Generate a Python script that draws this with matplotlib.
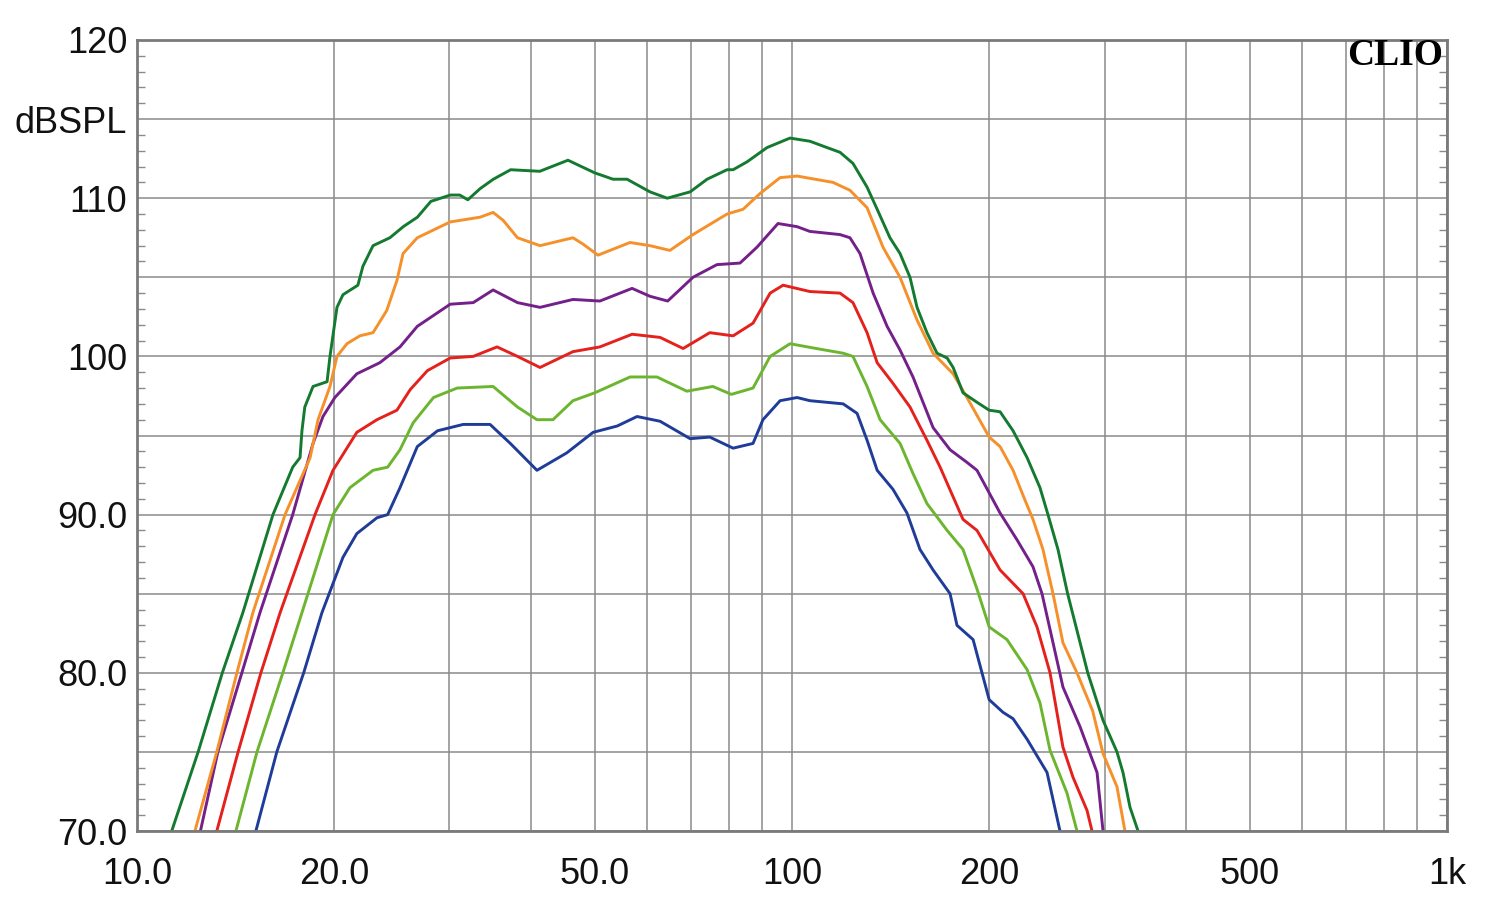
import numpy as np
import matplotlib
matplotlib.use('Agg')
import matplotlib.pyplot as plt
from matplotlib.ticker import FixedLocator, NullFormatter

plt.rcParams['font.family'] = ['Liberation Sans', 'DejaVu Sans']

# frequency response curves (Hz, dBSPL)
green_f = [11.3, 12.4, 13.5, 14.51, 16.13, 17.29, 17.74, 17.86, 18.04, 18.57, 19.51, 19.71,
           20.2, 20.63, 21.74, 22.13, 22.93, 24.33, 25.5, 26.8, 28.1, 30.1, 31.1, 32.0,
           33.4, 35.0, 37.2, 41.2, 45.5, 50.0, 53.3, 56.0, 60.7, 64.5, 69.9, 74.2, 79.6,
           81.3, 85.4, 91.6, 99.3, 106.5, 113.1, 118.4, 123.9, 130.2, 134.9, 141.1, 146.2,
           151.4, 155.2, 160.7, 166.5, 172.5, 176.2, 182.4, 191.6, 200, 207.8, 217.5,
           228.5, 239.1, 245.9, 254.7, 263.5, 282.8, 298.4, 313.4, 320.1, 328.1, 337.5]
green_db = [70, 75, 80, 83.8, 90.0, 93.0, 93.6, 95.3, 96.8, 98.1, 98.4, 100.0, 103.1,
            103.9, 104.5, 105.7, 107.0, 107.5, 108.2, 108.8, 109.8, 110.2, 110.2, 109.9,
            110.6, 111.2, 111.8, 111.7, 112.4, 111.6, 111.2, 111.2, 110.4, 110.0, 110.4,
            111.2, 111.8, 111.8, 112.3, 113.2, 113.8, 113.6, 113.2, 112.9, 112.2, 110.7,
            109.3, 107.5, 106.5, 105.0, 103.1, 101.5, 100.2, 99.9, 99.3, 97.7, 97.1, 96.6,
            96.5, 95.3, 93.6, 91.7, 90.0, 87.8, 85.0, 80.0, 77.0, 75.0, 73.7, 71.5, 70]

orange_f = [12.26, 13.24, 14.21, 15.03, 16.83, 18.38, 18.9, 19.71, 20.2, 20.92, 21.89,
            22.93, 24.06, 24.94, 25.48, 26.79, 30.08, 33.41, 34.97, 36.23, 38.1, 41.24,
            46.3, 47.96, 50.57, 56.59, 60.7, 65.1, 70.6, 79.6, 84.2, 89.4, 95.9, 101.8,
            115.5, 122.6, 130.2, 137.7, 146.2, 155.2, 164.2, 176.2, 185.0, 200, 207.8,
            217.5, 226.9, 233.3, 241.6, 250.3, 259.2, 272.3, 287.7, 298.4, 313.4, 322.3]
orange_db = [70, 75, 80, 83.8, 90.0, 93.6, 96.0, 98.1, 100.0, 100.8, 101.3, 101.5, 102.9,
             104.8, 106.5, 107.5, 108.5, 108.8, 109.1, 108.6, 107.5, 107.0, 107.5, 107.1,
             106.4, 107.2, 107.0, 106.7, 107.7, 109.0, 109.3, 110.3, 111.3, 111.4, 111.0,
             110.5, 109.4, 106.9, 105.0, 102.3, 100.2, 98.9, 97.4, 94.9, 94.3, 92.8, 90.9,
             89.7, 87.8, 85.0, 81.9, 80.0, 77.6, 74.9, 72.8, 70]

purple_f = [12.5, 13.29, 14.46, 15.41, 17.29, 18.57, 19.23, 20.05, 21.66, 23.48, 25.21,
            26.79, 30.08, 32.61, 34.97, 38.1, 41.24, 46.3, 50.9, 57.0, 60.7, 64.6, 70.6,
            76.8, 83.3, 88.4, 95.2, 101.8, 106.5, 118.4, 122.6, 127.0, 133.0, 139.7, 146.2,
            153.0, 164.2, 174.3, 185.0, 191.6, 207.8, 220.6, 233.3, 240.8, 250.3, 259.2,
            275.2, 292.2, 298.4]
purple_db = [70, 75, 80, 83.8, 90.0, 94.5, 96.2, 97.4, 98.9, 99.6, 100.6, 101.9, 103.3,
             103.4, 104.2, 103.4, 103.1, 103.6, 103.5, 104.3, 103.8, 103.5, 105.0, 105.8,
             105.9, 106.9, 108.4, 108.2, 107.9, 107.7, 107.5, 106.5, 104.0, 101.9, 100.4,
             98.7, 95.5, 94.1, 93.3, 92.8, 90.1, 88.4, 86.7, 85.0, 81.9, 79.1, 76.6, 73.7,
             70]

red_f = [13.24, 14.27, 15.46, 16.54, 18.7, 19.92, 21.66, 23.25, 24.94, 26.13, 27.76,
         30.08, 32.61, 35.46, 38.1, 41.24, 46.3, 50.9, 57.0, 62.9, 68.2, 74.9, 81.3, 87.2,
         92.6, 96.9, 106.5, 118.4, 123.9, 130.2, 134.9, 142.6, 151.4, 160.7, 168.3, 182.4,
         191.6, 207.8, 225.3, 236.6, 247.7, 259.2, 268.5, 282.1, 287.1]
red_db = [70, 75, 80, 83.8, 90.0, 92.8, 95.2, 96.0, 96.6, 97.9, 99.1, 99.9, 100.0, 100.6,
          100.0, 99.3, 100.3, 100.6, 101.4, 101.2, 100.5, 101.5, 101.3, 102.1, 104.0,
          104.5, 104.1, 104.0, 103.4, 101.5, 99.6, 98.3, 96.8, 94.7, 93.0, 89.7, 89.0,
          86.5, 85.0, 82.9, 80.0, 75.3, 73.4, 71.3, 70]

lgreen_f = [14.16, 15.25, 16.7, 17.86, 19.92, 21.14, 22.93, 24.14, 25.21, 26.4, 28.36,
            30.82, 34.97, 38.1, 40.8, 43.16, 46.3, 50.0, 56.6, 62.2, 69.1, 75.7, 80.8,
            87.2, 92.6, 99.3, 108.9, 119.7, 123.9, 130.2, 136.3, 146.2, 153.0, 160.7,
            172.5, 182.4, 191.6, 200, 212.9, 228.5, 239.1, 247.7, 262.9, 272.3]
lgreen_db = [70, 75, 80, 83.8, 90.0, 91.7, 92.8, 93.0, 94.1, 95.8, 97.4, 98.0, 98.1,
             96.8, 96.0, 96.0, 97.2, 97.7, 98.7, 98.7, 97.8, 98.1, 97.6, 98.0, 100.0,
             100.8, 100.5, 100.2, 100.0, 98.1, 96.0, 94.5, 92.6, 90.7, 89.0, 87.8, 85.3,
             82.9, 82.1, 80.2, 78.1, 75.1, 72.4, 70]

blue_f = [15.19, 16.35, 17.97, 19.16, 20.63, 21.66, 23.25, 24.14, 25.21, 26.79, 28.77,
          31.48, 34.6, 37.15, 40.8, 45.3, 49.7, 54.1, 58.0, 62.9, 69.9, 74.9, 81.3, 87.2,
          90.3, 95.9, 101.8, 106.5, 119.7, 125.7, 130.2, 134.9, 142.6, 149.8, 156.8,
          164.2, 174.3, 178.6, 189.0, 200, 210, 217.5, 228.5, 245.1, 256.5]
blue_db = [70, 75, 80, 83.8, 87.3, 88.8, 89.8, 90.0, 91.7, 94.3, 95.3, 95.7, 95.7, 94.5,
           92.8, 93.9, 95.2, 95.6, 96.2, 95.9, 94.8, 94.9, 94.2, 94.5, 96.0, 97.2, 97.4,
           97.2, 97.0, 96.4, 94.7, 92.8, 91.6, 90.1, 87.8, 86.5, 85.0, 83.0, 82.1, 78.3,
           77.5, 77.1, 75.8, 73.7, 70]

series = [
    (blue_f, blue_db, '#1f3c98'),
    (lgreen_f, lgreen_db, '#6cb52f'),
    (red_f, red_db, '#e4211c'),
    (purple_f, purple_db, '#74208a'),
    (orange_f, orange_db, '#f5902a'),
    (green_f, green_db, '#137a30'),
]

fig = plt.figure(figsize=(15, 9.11), dpi=100)
ax = fig.add_axes([0.0913, 0.0878, 0.8734, 0.8683])

for f, db, col in series:
    ax.semilogx(f, db, color=col, linewidth=2.1, solid_joinstyle='round')

ax.set_xlim(10, 1000)
ax.set_ylim(70, 120)

# x axis: labelled decades plus grid at every multiple
ax.xaxis.set_major_locator(FixedLocator([10, 20, 50, 100, 200, 500, 1000]))
ax.set_xticklabels(['10.0', '20.0', '50.0', '100', '200', '500', '1k'])
minor_x = [30, 40, 60, 70, 80, 90, 300, 400, 600, 700, 800, 900]
ax.xaxis.set_minor_locator(FixedLocator(minor_x))
ax.xaxis.set_minor_formatter(NullFormatter())

# y axis: grid every 5 dB, small inward ticks every 1 dB
ax.set_yticks(np.arange(70, 121, 5))
ax.set_yticklabels(['70.0', '', '80.0', '', '90.0', '', '100', '', '110', 'dBSPL', '120'])
ax.set_yticks(np.arange(70, 121, 1), minor=True)

grid_col = '#8a8a8a'
ax.grid(which='major', color=grid_col, linewidth=1.1)
ax.grid(which='minor', axis='x', color=grid_col, linewidth=1.1)
ax.set_axisbelow(True)

ax.tick_params(axis='both', which='major', length=0, labelsize=26, colors='#111111')
ax.tick_params(axis='x', which='major', pad=19)
ax.tick_params(axis='y', which='major', pad=7)
ax.tick_params(axis='x', which='minor', length=0)
ax.tick_params(axis='y', which='minor', direction='in', length=6, width=1,
               left=True, right=True, color=grid_col)

for sp in ax.spines.values():
    sp.set_color('#7a7a7a')
    sp.set_linewidth(2)

ax.text(0.997, 0.981, 'CLIO', transform=ax.transAxes, ha='right', va='center',
        fontsize=27, fontweight='bold', family=['Liberation Serif', 'DejaVu Serif'])

fig.savefig('out.png', dpi=100)
